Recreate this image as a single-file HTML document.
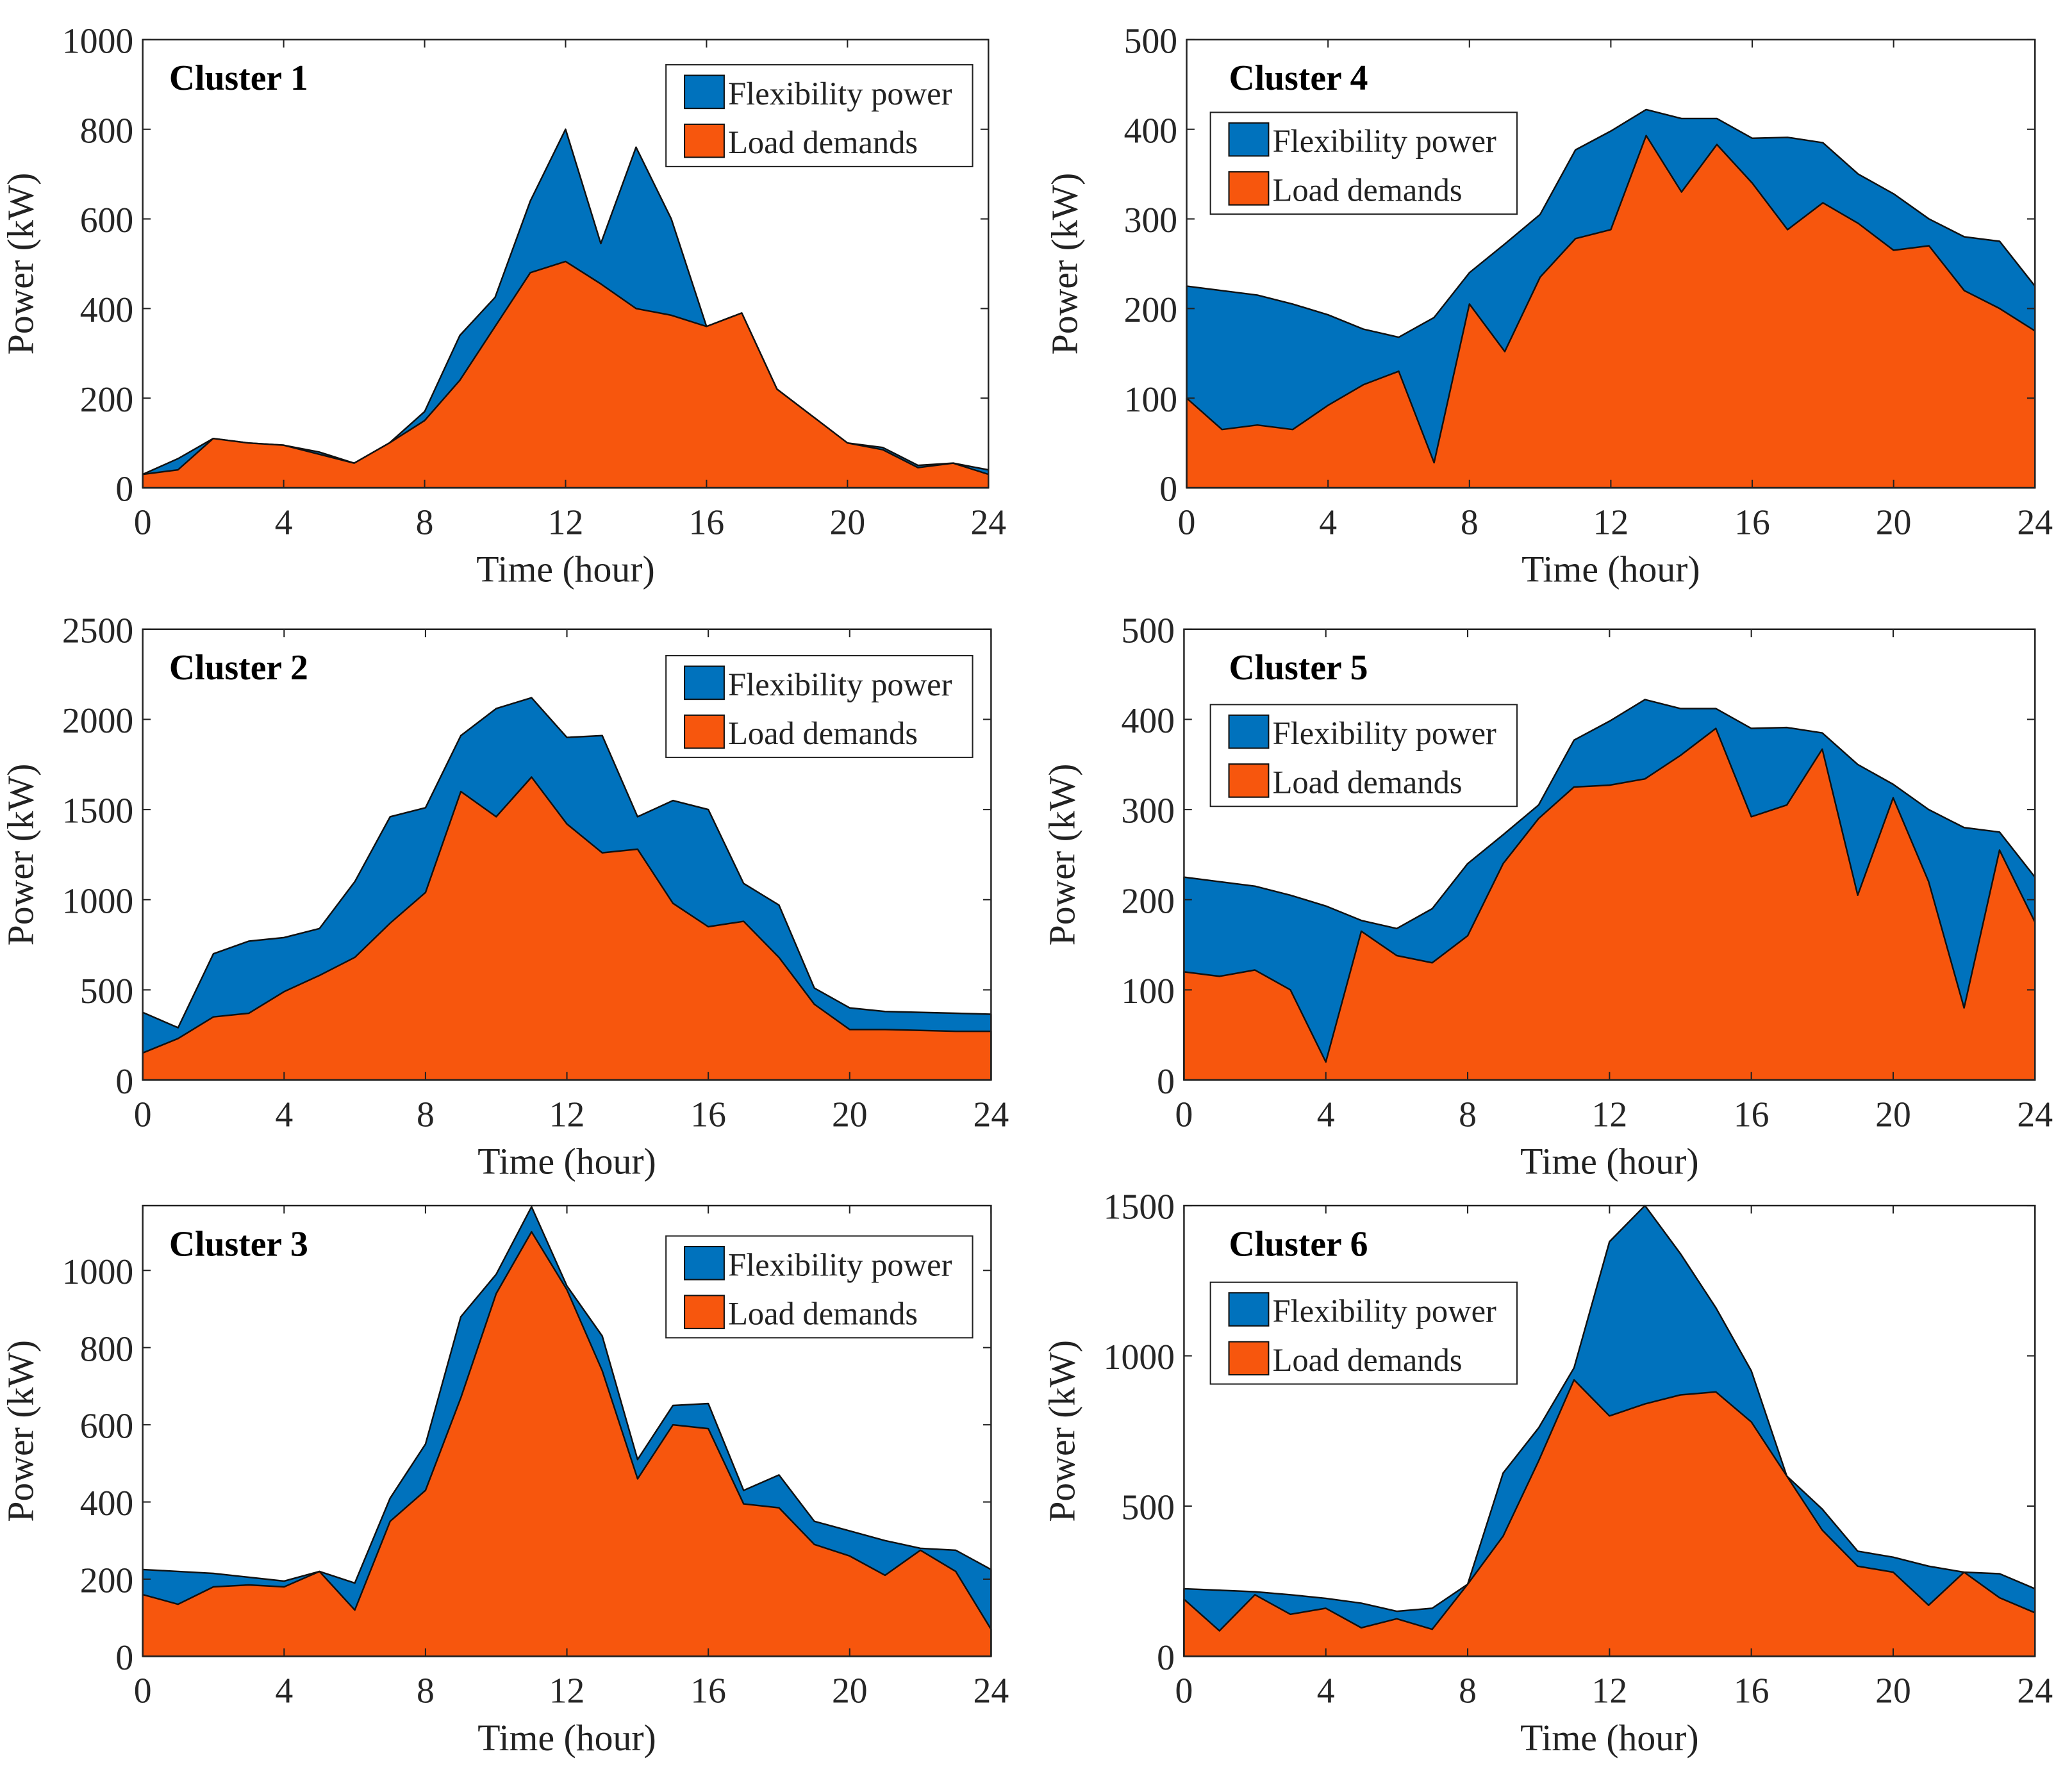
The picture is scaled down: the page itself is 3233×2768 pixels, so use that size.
<!DOCTYPE html>
<html><head><meta charset="utf-8"><style>
html,body{margin:0;padding:0;background:#fff}
svg{display:block;font-family:"Liberation Serif",serif}
</style></head><body>
<svg id="fig" width="3233" height="2768" viewBox="0 0 1568 1342" preserveAspectRatio="none" xmlns="http://www.w3.org/2000/svg"></svg>
<script>
const hours = [0,1,2,3,4,5,6,7,8,9,10,11,12,13,14,15,16,17,18,19,20,21,22,23,24];
const xTicks = [0,4,8,12,16,20,24];
const load1 = [30,40,110,100,95,75,55,100,150,240,360,480,505,455,400,385,360,390,220,160,100,85,45,55,30];
const total1 = [30,65,110,100,95,80,55,100,170,340,425,640,800,545,760,600,360,390,220,160,100,90,50,55,40];
const load2 = [150,230,350,370,490,580,680,870,1040,1600,1460,1680,1420,1260,1280,980,850,880,680,420,280,280,275,270,270];
const total2 = [375,290,700,770,790,840,1100,1460,1510,1910,2060,2120,1900,1910,1460,1550,1500,1090,970,510,400,380,375,370,365];
const load3 = [160,135,180,185,180,220,120,350,430,670,940,1100,950,740,460,600,590,395,385,290,260,210,275,220,70];
const total3 = [225,220,215,205,195,220,190,410,550,880,990,1165,960,830,510,650,655,430,470,350,325,300,280,275,225];
const load4 = [100,65,70,65,92,115,130,28,205,152,235,278,288,393,330,383,340,288,318,295,265,270,220,200,175];
const total4 = [225,220,215,205,193,177,168,190,240,272,305,377,398,422,412,412,390,391,385,350,328,300,280,275,225];
const load5 = [120,115,122,100,20,165,138,130,160,240,290,325,327,334,360,390,292,305,367,205,313,220,80,255,175];
const total5 = [225,220,215,205,193,177,168,190,240,272,305,377,398,422,412,412,390,391,385,350,328,300,280,275,225];
const load6 = [190,85,205,140,160,95,125,90,240,400,650,920,800,840,870,880,780,600,420,300,280,170,280,195,145];
const total6 = [225,220,215,205,193,177,150,160,240,610,760,960,1380,1500,1340,1160,950,600,490,350,330,300,280,275,225];
const yTicks1 = [0,200,400,600,800,1000];
const yTicks2 = [0,500,1000,1500,2000,2500];
const yTicks3 = [0,200,400,600,800,1000];
const yTicks4 = [0,100,200,300,400,500];
const yTicks5 = [0,100,200,300,400,500];
const yTicks6 = [0,500,1000,1500];

const NS="http://www.w3.org/2000/svg";
const svg=document.getElementById('fig');
function mk(tag,attrs,parent){const e=document.createElementNS(NS,tag);for(const k in attrs)e.setAttribute(k,attrs[k]);(parent||svg).appendChild(e);return e;}

const panels=[
 {n:1,L:108,R:748,T:30,B:369,ymax:1000,yt:yTicks1,load:load1,total:total1,leg:[504,49],tx:128},
 {n:2,L:108,R:750,T:476,B:817,ymax:2500,yt:yTicks2,load:load2,total:total2,leg:[504,496],tx:128},
 {n:3,L:108,R:750,T:912,B:1253,ymax:1168,yt:yTicks3,load:load3,total:total3,leg:[504,935],tx:128},
 {n:4,L:898,R:1540,T:30,B:369,ymax:500,yt:yTicks4,load:load4,total:total4,leg:[916,85],tx:930},
 {n:5,L:896,R:1540,T:476,B:817,ymax:500,yt:yTicks5,load:load5,total:total5,leg:[916,533],tx:930},
 {n:6,L:896,R:1540,T:912,B:1253,ymax:1500,yt:yTicks6,load:load6,total:total6,leg:[916,970],tx:930}
];
panels.forEach(p=>{
  const g=mk('g',{});
  
  
  const xs=v=>p.L+(v/24)*(p.R-p.L);
  const ys=v=>p.B-(v/p.ymax)*(p.B-p.T);
  function area(vals){let d='M'+xs(hours[0])+','+ys(0);hours.forEach((h,i)=>{d+=' L'+xs(h)+','+ys(vals[i]);});d+=' L'+xs(24)+','+ys(0)+' Z';return d;}
  const a1=mk('path',{d:area(p.total),fill:'#0072BD',stroke:'#111','stroke-width':1.2,'stroke-linejoin':'round'},g);
  
  
  const a2=mk('path',{d:area(p.load),fill:'#F7560D',stroke:'#111','stroke-width':1.2,'stroke-linejoin':'round'},g);
  
  
  const fr=mk('rect',{x:p.L,y:p.T,width:p.R-p.L,height:p.B-p.T,fill:'none',stroke:'#222','stroke-width':1.2},g);
  
  
  xTicks.forEach(t=>{
    const x=xs(t);
    mk('line',{x1:x,x2:x,y1:p.B,y2:p.B-6,stroke:'#222','stroke-width':1},g);
    mk('line',{x1:x,x2:x,y1:p.T,y2:p.T+6,stroke:'#222','stroke-width':1},g);
    const tx=mk('text',{x:x,y:p.B+35,'text-anchor':'middle','font-size':27,fill:'#262626'},g);
    tx.textContent=t;
    
    
  });
  p.yt.forEach(t=>{
    const y=ys(t);
    mk('line',{x1:p.L,x2:p.L+6,y1:y,y2:y,stroke:'#222','stroke-width':1},g);
    mk('line',{x1:p.R,x2:p.R-6,y1:y,y2:y,stroke:'#222','stroke-width':1},g);
    const ty=mk('text',{x:p.L-7,y:y+10,'text-anchor':'end','font-size':27,fill:'#262626'},g);
    ty.textContent=t;
    
    
  });
  const xl=mk('text',{x:(p.L+p.R)/2,y:p.B+71,'text-anchor':'middle','font-size':28,fill:'#222'},g);
  xl.textContent='Time  (hour)';xl.setAttribute('xml:space','preserve');
  
  
  const cy=(p.T+p.B)/2, cx=p.L-83;
  const yl=mk('text',{x:cx,y:cy,'text-anchor':'middle','font-size':28,fill:'#222',transform:'rotate(-90 '+cx+' '+cy+')'},g);
  yl.textContent='Power (kW)';
  
  
  const tt=mk('text',{x:p.tx,y:p.T+38,'font-size':27,'font-weight':'bold',fill:'#000'},g);
  tt.textContent='Cluster '+p.n;
  
  
  const [lx,ly]=p.leg;
  const lg=mk('g',{},g);
  
  
  mk('rect',{x:lx,y:ly,width:232,height:77,fill:'#fff',stroke:'#222','stroke-width':1},lg);
  mk('rect',{x:lx+14,y:ly+8,width:30,height:25,fill:'#0072BD',stroke:'#111','stroke-width':1},lg);
  mk('rect',{x:lx+14,y:ly+45,width:30,height:25,fill:'#F7560D',stroke:'#111','stroke-width':1},lg);
  const l1=mk('text',{x:lx+47,y:ly+30,'font-size':24.5,fill:'#222'},lg);
  l1.textContent='Flexibility power';
  
  
  const l2=mk('text',{x:lx+47,y:ly+67,'font-size':24.5,fill:'#222'},lg);
  l2.textContent='Load demands';
  
  
});
</script>
</body></html>
